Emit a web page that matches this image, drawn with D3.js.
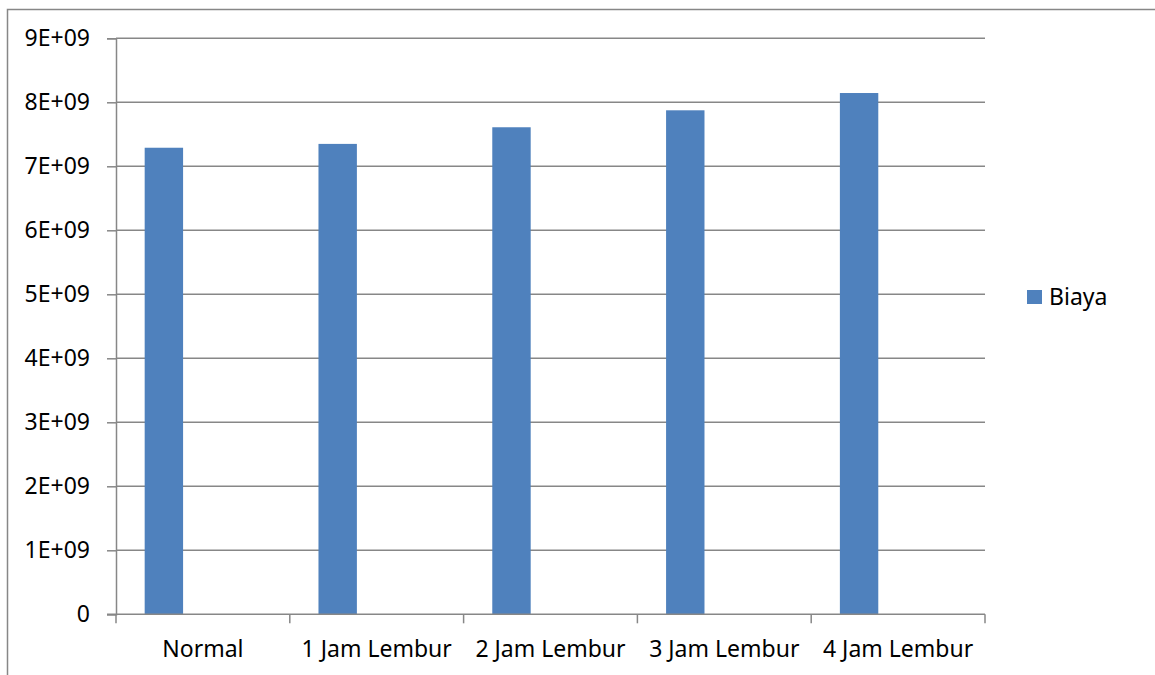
<!DOCTYPE html>
<html>
<head>
<meta charset="utf-8">
<script src="https://cdn.jsdelivr.net/npm/d3@7"></script>
<style>
  html, body { margin: 0; padding: 0; background: #fff; }
  svg { display: block; }
  text { font-family: "Noto Sans", "Open Sans", sans-serif; fill: #000; }
</style>
</head>
<body>
<svg id="chart" width="1155" height="675"></svg>
<script>
// Biaya per skenario jam kerja
const categories = ["Normal", "1 Jam Lembur", "2 Jam Lembur", "3 Jam Lembur", "4 Jam Lembur"];
const biaya = [7.29e9, 7.35e9, 7.61e9, 7.875e9, 8.145e9];
const yTicks = [0, 1e9, 2e9, 3e9, 4e9, 5e9, 6e9, 7e9, 8e9, 9e9];
const yTickLabels = ["0", "1E+09", "2E+09", "3E+09", "4E+09", "5E+09", "6E+09", "7E+09", "8E+09", "9E+09"];
const seriesName = "Biaya";

const svg = d3.select("#chart");
const barColor = "#4f81bd";
const gridColor = "#878787";
const lineW = 1.5;
const fontSize = 23;

// outer frame of the chart area (runs off the right and bottom edge)
svg.append("rect")
  .attr("x", 7.5).attr("y", 9.5)
  .attr("width", 1160).attr("height", 700)
  .attr("fill", "none").attr("stroke", gridColor).attr("stroke-width", lineW);

const plot = { left: 116, right: 985, top: 38.3, bottom: 614.3 };

const x = d3.scaleBand().domain(categories).range([plot.left, plot.right]);
const y = d3.scaleLinear().domain([0, 9e9]).range([plot.bottom, plot.top]);

// horizontal gridlines
svg.append("g").selectAll("line")
  .data(yTicks.filter(d => d > 0))
  .join("line")
  .attr("x1", plot.left).attr("x2", plot.right)
  .attr("y1", d => y(d)).attr("y2", d => y(d))
  .attr("stroke", gridColor).attr("stroke-width", lineW);

// bars: sit in the left part of each category band
const barOffset = x.bandwidth() * 0.165;
const barWidth = x.bandwidth() * 0.221;
svg.append("g").selectAll("rect")
  .data(categories.map((c, i) => ({ c, v: biaya[i] })))
  .join("rect")
  .attr("x", d => x(d.c) + barOffset)
  .attr("width", barWidth)
  .attr("y", d => y(d.v))
  .attr("height", d => y(0) - y(d.v))
  .attr("fill", barColor);

// y axis
const yAxis = d3.axisLeft(y)
  .tickValues(yTicks)
  .tickFormat((d, i) => yTickLabels[i])
  .tickSize(9)
  .tickPadding(17);
const gy = svg.append("g").attr("transform", `translate(${plot.left},0)`).call(yAxis);
gy.select(".domain").attr("stroke", gridColor).attr("stroke-width", lineW);
gy.selectAll(".tick line").attr("stroke", gridColor).attr("stroke-width", lineW);
gy.selectAll(".tick text").attr("font-size", fontSize).attr("fill", "#000")
  .attr("font-family", "Noto Sans, sans-serif");

// x axis with ticks at band boundaries
const gx = svg.append("g").attr("transform", `translate(0,${plot.bottom})`);
gx.append("line")
  .attr("x1", plot.left - 9).attr("x2", plot.right)
  .attr("stroke", gridColor).attr("stroke-width", lineW);
const bounds = categories.map(c => x(c)).concat([plot.right]);
gx.selectAll("line.tk").data(bounds).join("line").attr("class", "tk")
  .attr("x1", d => d).attr("x2", d => d)
  .attr("y1", 0).attr("y2", 9)
  .attr("stroke", gridColor).attr("stroke-width", lineW);
gx.selectAll("text").data(categories).join("text")
  .attr("x", d => x(d) + x.bandwidth() / 2)
  .attr("y", 43)
  .attr("text-anchor", "middle")
  .attr("font-size", fontSize)
  .text(d => d);

// legend
const lg = svg.append("g").attr("transform", "translate(1027,290)");
lg.append("rect").attr("width", 15).attr("height", 14).attr("fill", barColor);
lg.append("text").attr("x", 22).attr("y", 14.5).attr("font-size", fontSize).text(seriesName);
</script>
</body>
</html>
